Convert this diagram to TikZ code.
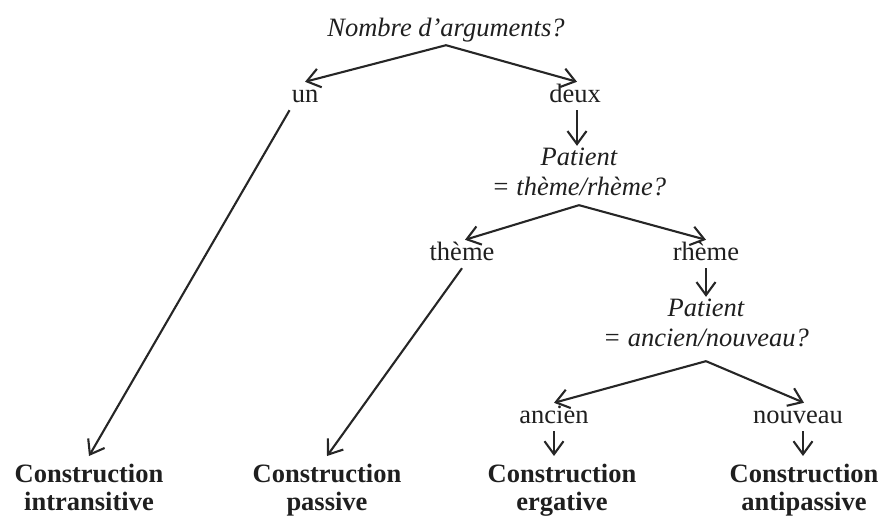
\documentclass[tikz,border=0pt]{standalone}
\usepackage{fontspec}
\setmainfont{Liberation Serif}
\usetikzlibrary{arrows.meta,calc}
\begin{document}
\begin{tikzpicture}[x=1pt,y=-1pt,
  every node/.style={font=\fontsize{26.5}{30}\selectfont,text=black!88},
  lab/.style={text height=18pt,text depth=6pt,inner sep=2pt,anchor=base},
  qq/.style={font=\fontsize{26.5}{30}\selectfont\itshape,align=center,inner xsep=3pt,inner ysep=2pt},
  res/.style={font=\fontsize{26.5}{28}\selectfont\bfseries,align=center,inner xsep=0pt,inner ysep=8pt,anchor=north},
  arr/.style={-{Straight Barb[length=13pt,width=19pt]},line width=2.1pt,draw=black!85}
]
\useasboundingbox (0,0) rectangle (885,519);

% questions
\node[lab,font=\fontsize{26.5}{30}\selectfont\itshape] (q1) at (446,37) {Nombre d’arguments?};
\node[qq] (q2) at (579,172) {Patient\\= thème/rhème?};
\node[qq] (q3) at (706,323) {Patient\\= ancien/nouveau?};

% answers
\node[lab] (un) at (305,102) {un};
\node[lab] (deux) at (575,102) {deux};
\node[lab] (theme) at (462,260) {thème};
\node[lab] (rheme) at (706,260) {rhème};
\node[lab] (ancien) at (554,423) {ancien};
\node[lab] (nouveau) at (798,423) {nouveau};

% results
\node[res] (intr) at (89,456) {Construction\\intransitive};
\node[res] (pass) at (327,456) {Construction\\passive};
\node[res] (erg) at (562,456) {Construction\\ergative};
\node[res] (anti) at (804,456) {Construction\\antipassive};

% fork points
\coordinate (f2) at ([yshift=-7pt]q2.south);
\coordinate (f3) at ([yshift=-12pt]q3.south);

% connectors
\draw[arr] (q1.south) -- (un.north);
\draw[arr] (q1.south) -- ([xshift=2pt]deux.north);
\draw[arr] ([xshift=2pt]deux.south) -- ([xshift=2pt]deux.south |- q2.north);
\draw[arr] (un.south west) -- (intr.north);
\draw[arr] (f2) -- ([xshift=3pt]theme.north);
\draw[arr] (f2) -- (rheme.north);
\draw[arr] (theme.south) -- (pass.north);
\draw[arr] (rheme.south) -- (rheme.south |- q3.north);
\draw[arr] (f3) -- (ancien.north);
\draw[arr] (f3) -- ([xshift=6pt]nouveau.north);
\draw[arr] (ancien.south) -- (ancien.south |- erg.north);
\draw[arr] ([xshift=5pt]nouveau.south) -- ([xshift=5pt]nouveau.south |- anti.north);
\end{tikzpicture}
\end{document}
